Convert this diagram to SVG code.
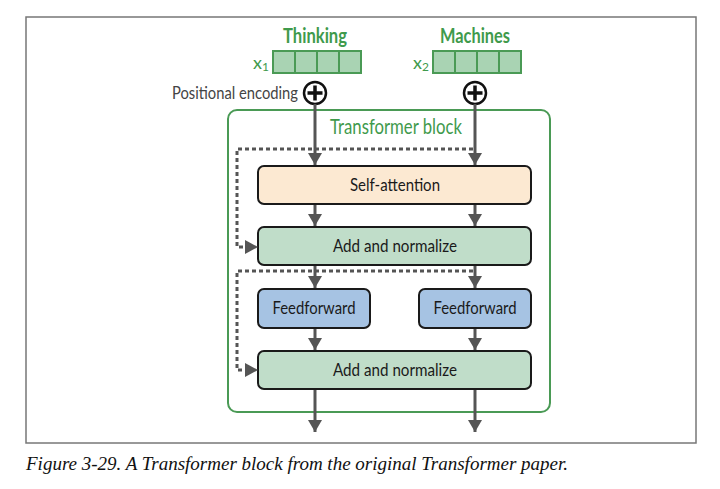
<svg xmlns="http://www.w3.org/2000/svg" width="720" height="489" viewBox="0 0 720 489">
<defs>
<style>
.lbl{font-family:Lato,"Open Sans","Liberation Sans",sans-serif;font-size:18px;fill:#1a1a1a;text-anchor:middle}
.grn{font-family:Lato,"Open Sans","Liberation Sans",sans-serif;fill:#3f9a4c;text-anchor:middle}
.box{stroke:#1a1a1a;stroke-width:2}
.cell{fill:#a9d3b3;stroke:#4a9a55;stroke-width:2}
.arr{stroke:#555;stroke-width:3;fill:none}
.dash{stroke:#555;stroke-width:3;fill:none;stroke-dasharray:4 3}
</style>
<marker id="ah" viewBox="0 0 12 14" refX="12" refY="7" markerWidth="12" markerHeight="14" markerUnits="userSpaceOnUse" orient="auto">
<path d="M0,0 L12,7 L0,14 Z" fill="#555"/>
</marker>
</defs>
<rect width="720" height="489" fill="#fff"/>
<rect x="26" y="17" width="670" height="426" fill="none" stroke="#777" stroke-width="1.5"/>

<g id="input1">
<text class="grn" x="315" y="43" font-size="21" font-weight="bold" textLength="64" lengthAdjust="spacingAndGlyphs">Thinking</text>
<text class="grn" x="261" y="69" font-size="18">x<tspan font-size="12" dy="2">1</tspan></text>
<rect class="cell" x="273" y="51" width="22" height="22"/>
<rect class="cell" x="295" y="51" width="22" height="22"/>
<rect class="cell" x="317" y="51" width="22" height="22"/>
<rect class="cell" x="339" y="51" width="22" height="22"/>
</g>
<g id="input2">
<text class="grn" x="475" y="43" font-size="21" font-weight="bold" textLength="70" lengthAdjust="spacingAndGlyphs">Machines</text>
<text class="grn" x="421" y="69" font-size="18">x<tspan font-size="12" dy="2">2</tspan></text>
<rect class="cell" x="433" y="51" width="22" height="22"/>
<rect class="cell" x="455" y="51" width="22" height="22"/>
<rect class="cell" x="477" y="51" width="22" height="22"/>
<rect class="cell" x="499" y="51" width="22" height="22"/>
</g>

<g id="posenc">
<text x="172" y="99" font-family="Lato,'Open Sans','Liberation Sans',sans-serif" font-size="18" fill="#444" textLength="126" lengthAdjust="spacingAndGlyphs">Positional encoding</text>
<circle cx="315" cy="93" r="11" fill="#fff" stroke="#111" stroke-width="2.5"/>
<path d="M307.5,93 H322.5 M315,85.5 V100.5" stroke="#111" stroke-width="3.5"/>
<circle cx="475" cy="93" r="11" fill="#fff" stroke="#111" stroke-width="2.5"/>
<path d="M467.5,93 H482.5 M475,85.5 V100.5" stroke="#111" stroke-width="3.5"/>
</g>

<g id="block">
<rect x="228" y="110" width="322" height="302" rx="9" fill="none" stroke="#4a9a55" stroke-width="2"/>
<text class="grn" x="396" y="134" font-size="21" textLength="132" lengthAdjust="spacingAndGlyphs">Transformer block</text>
</g>

<g id="selfattn">
<rect class="box" x="258" y="166" width="273" height="38" rx="6" fill="#fce9d2"/>
<text class="lbl" x="395" y="191" textLength="90" lengthAdjust="spacingAndGlyphs">Self-attention</text>
</g>
<g id="addnorm1">
<rect class="box" x="258" y="227" width="273" height="38" rx="6" fill="#c0ddc9"/>
<text class="lbl" x="395" y="252" textLength="124" lengthAdjust="spacingAndGlyphs">Add and normalize</text>
</g>
<g id="ff1">
<rect class="box" x="258" y="289" width="112" height="39" rx="6" fill="#a6c3e3"/>
<text class="lbl" x="314" y="314" textLength="83" lengthAdjust="spacingAndGlyphs">Feedforward</text>
</g>
<g id="ff2">
<rect class="box" x="419" y="289" width="112" height="39" rx="6" fill="#a6c3e3"/>
<text class="lbl" x="475" y="314" textLength="83" lengthAdjust="spacingAndGlyphs">Feedforward</text>
</g>
<g id="addnorm2">
<rect class="box" x="258" y="351" width="273" height="38" rx="6" fill="#c0ddc9"/>
<text class="lbl" x="395" y="376" textLength="124" lengthAdjust="spacingAndGlyphs">Add and normalize</text>
</g>

<g id="connectors">
<line class="arr" x1="315" y1="104" x2="315" y2="165" marker-end="url(#ah)"/>
<line class="arr" x1="475" y1="104" x2="475" y2="165" marker-end="url(#ah)"/>
<line class="arr" x1="315" y1="205" x2="315" y2="226" marker-end="url(#ah)"/>
<line class="arr" x1="475" y1="205" x2="475" y2="226" marker-end="url(#ah)"/>
<line class="arr" x1="315" y1="266" x2="315" y2="288" marker-end="url(#ah)"/>
<line class="arr" x1="475" y1="266" x2="475" y2="288" marker-end="url(#ah)"/>
<line class="arr" x1="315" y1="329" x2="315" y2="350" marker-end="url(#ah)"/>
<line class="arr" x1="475" y1="329" x2="475" y2="350" marker-end="url(#ah)"/>
<line class="arr" x1="315" y1="390" x2="315" y2="432" marker-end="url(#ah)"/>
<line class="arr" x1="475" y1="390" x2="475" y2="432" marker-end="url(#ah)"/>
<path class="dash" d="M473,149 H237 V247 H246"/>
<path d="M245,240 L258,247 L245,254 Z" fill="#555"/>
<path class="dash" d="M473,271 H237 V370 H246"/>
<path d="M245,363 L258,370 L245,377 Z" fill="#555"/>
</g>

<text x="26" y="470" font-family="'Liberation Serif',serif" font-style="italic" font-size="19" fill="#111">Figure 3-29. A Transformer block from the original Transformer paper.</text>
</svg>
